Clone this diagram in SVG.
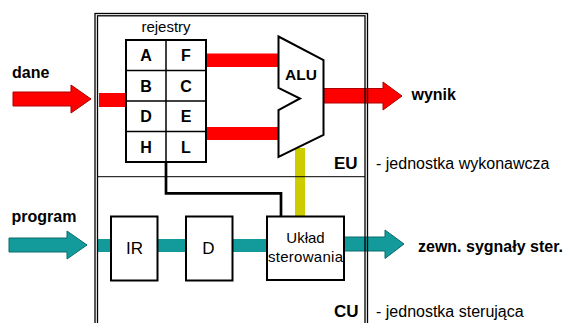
<svg xmlns="http://www.w3.org/2000/svg" width="572" height="323" viewBox="0 0 572 323">
<style>
.t{font-family:"Liberation Sans",Arial,sans-serif;fill:#000}
.b{font-weight:bold}
.box{fill:#fff;stroke:#000;stroke-width:2}
.red{fill:#ff0000}
.teal{fill:#139b9b}
.redA{fill:#ff0000;stroke:#b00000;stroke-width:1}
.tealA{fill:#139b9b;stroke:#0b6a6a;stroke-width:1}
.reg{font-size:16px;font-weight:bold;text-anchor:middle}
</style>
<rect width="572" height="323" fill="#fff"/>
<g id="connectors">
  <rect class="red" x="99" y="93" width="27" height="14"/>
  <rect class="red" x="206" y="53.5" width="74" height="13.5"/>
  <rect class="red" x="206" y="127" width="74" height="13"/>
  <polygon class="redA" points="323,88.5 383,88.5 383,82 402,96 383,110 383,103 323,103"/>
  <rect fill="#cccc00" x="295" y="148" width="10" height="69"/>
  <rect class="teal" x="97" y="239" width="171" height="13"/>
  <polygon class="tealA" points="344,237 385,237 385,230 404,244 385,258.5 385,251 344,251"/>
  <polyline points="166,162 166,193.3 281,193.3 281,216" fill="none" stroke="#000" stroke-width="2.7"/>
</g>
<g id="frame">
  <rect x="95" y="13.5" width="272.5" height="330" fill="none" stroke="#000" stroke-width="1.3"/>
  <rect x="97.5" y="15.8" width="267.5" height="330" fill="none" stroke="#000" stroke-width="1.3"/>
  <line x1="97.5" y1="176.7" x2="365" y2="176.7" stroke="#000" stroke-width="1"/>
</g>
<g id="dane">
  <polygon class="redA" points="13,92 71,92 71,85 91,99 71,113 71,106 13,106"/>
  <text class="t b" x="12" y="78" font-size="16">dane</text>
</g>
<g id="program">
  <polygon class="tealA" points="9,238 67,238 67,231 87,245 67,259 67,252 9,252"/>
  <text class="t b" x="11.5" y="222" font-size="16">program</text>
</g>
<g id="rejestry">
  <text class="t" x="166" y="32" font-size="15" text-anchor="middle">rejestry</text>
  <rect class="box" x="126" y="40" width="80" height="122"/>
  <line x1="166" y1="40" x2="166" y2="162" stroke="#000" stroke-width="1.5"/>
  <line x1="126" y1="70.5" x2="206" y2="70.5" stroke="#000" stroke-width="1.5"/>
  <line x1="126" y1="101" x2="206" y2="101" stroke="#000" stroke-width="1.5"/>
  <line x1="126" y1="131.5" x2="206" y2="131.5" stroke="#000" stroke-width="1.5"/>
  <text class="t reg" x="146" y="61">A</text>
  <text class="t reg" x="186" y="61">F</text>
  <text class="t reg" x="146" y="91.5">B</text>
  <text class="t reg" x="186" y="91.5">C</text>
  <text class="t reg" x="146" y="122">D</text>
  <text class="t reg" x="186" y="122">E</text>
  <text class="t reg" x="146" y="152.5">H</text>
  <text class="t reg" x="186" y="152.5">L</text>
</g>
<g id="alu">
  <polygon class="box" points="278.5,36.5 323.5,60 323.5,135 278.5,157 278.5,110 300,98.5 278.5,88"/>
  <text class="t b" x="301" y="80" font-size="15.5" text-anchor="middle">ALU</text>
</g>
<g id="wynik">
  <text class="t b" x="411.5" y="100" font-size="16">wynik</text>
</g>
<g id="eu">
  <text class="t b" x="334" y="169" font-size="17">EU</text>
  <text class="t" x="376" y="169" font-size="16">- jednostka wykonawcza</text>
</g>
<g id="ir">
  <rect class="box" x="111" y="216.5" width="46.5" height="64"/>
  <text class="t" x="134.5" y="254" font-size="17" text-anchor="middle">IR</text>
</g>
<g id="d">
  <rect class="box" x="186" y="216.5" width="46.5" height="64"/>
  <text class="t" x="208.5" y="254" font-size="17" text-anchor="middle">D</text>
</g>
<g id="uklad">
  <rect class="box" x="267" y="216.5" width="77" height="63.5"/>
  <text class="t" x="305.5" y="243" font-size="15" text-anchor="middle" fill="#222">Układ</text>
  <text class="t" x="305.5" y="261.5" font-size="15" text-anchor="middle" textLength="75" lengthAdjust="spacing">sterowania</text>
</g>
<g id="zewn">
  <text class="t b" x="418" y="252" font-size="16">zewn. sygnały ster.</text>
</g>
<g id="cu">
  <text class="t b" x="334" y="317" font-size="17">CU</text>
  <text class="t" x="376" y="317" font-size="16">- jednostka sterująca</text>
</g>
</svg>
